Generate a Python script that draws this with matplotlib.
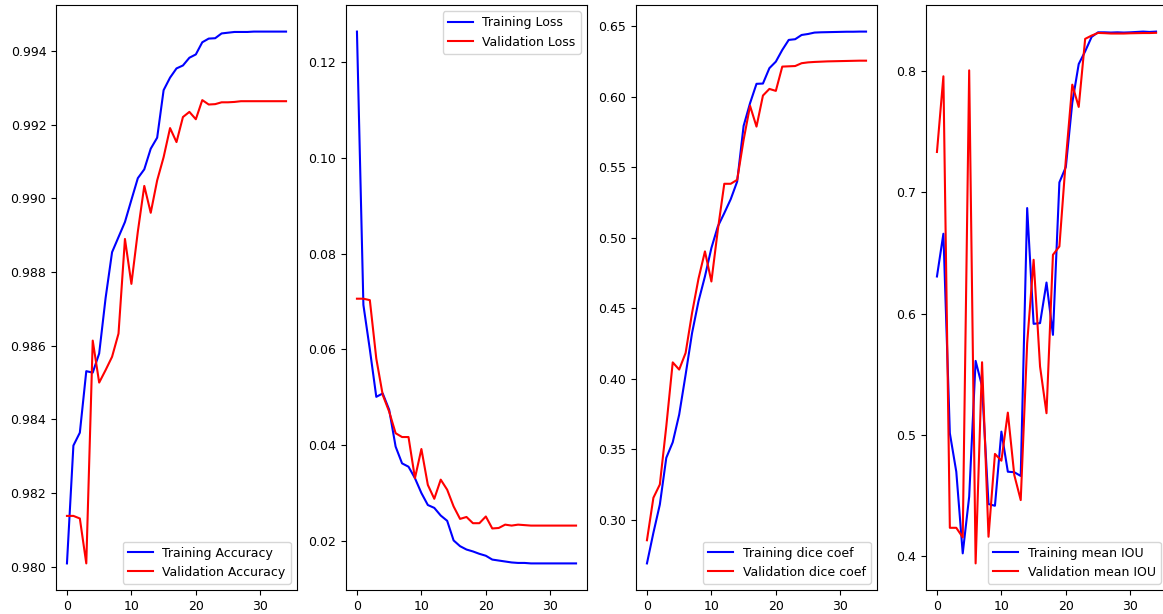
import numpy as np
import matplotlib
matplotlib.use("Agg")
import matplotlib.pyplot as plt

# epoch毎の学習履歴
epochs = np.arange(35)

train_acc = [0.98009, 0.98329, 0.98364, 0.98531, 0.98527, 0.98579, 0.98730, 0.98854,
             0.98895, 0.98936, 0.98996, 0.99055, 0.99079, 0.99135, 0.99165, 0.99294,
             0.99328, 0.99353, 0.99361, 0.99382, 0.99391, 0.99424, 0.99434, 0.99435,
             0.99448, 0.99450, 0.99452, 0.99452, 0.99452, 0.99453, 0.99453, 0.99453,
             0.99453, 0.99453, 0.99453]
val_acc = [0.98138, 0.98138, 0.98131, 0.98009, 0.98614, 0.98500, 0.98534, 0.98570,
           0.98633, 0.98890, 0.98768, 0.98910, 0.99034, 0.98961, 0.99049, 0.99112,
           0.99191, 0.99153, 0.99221, 0.99235, 0.99215, 0.99267, 0.99255, 0.99256,
           0.99261, 0.99261, 0.99262, 0.99264, 0.99264, 0.99264, 0.99264, 0.99264,
           0.99264, 0.99264, 0.99264]

train_loss = [0.1264, 0.0693, 0.0600, 0.0501, 0.0508, 0.0474, 0.0397, 0.0362,
              0.0355, 0.0331, 0.0300, 0.0275, 0.0269, 0.0253, 0.0242, 0.0201,
              0.0189, 0.0182, 0.0178, 0.0173, 0.0169, 0.0161, 0.0159, 0.0157,
              0.0155, 0.0154, 0.0154, 0.0153, 0.0153, 0.0153, 0.0153, 0.0153,
              0.0153, 0.0153, 0.0153]
val_loss = [0.0706, 0.0706, 0.0703, 0.0581, 0.0505, 0.0470, 0.0425, 0.0417,
            0.0417, 0.0331, 0.0392, 0.0317, 0.0288, 0.0328, 0.0307, 0.0272,
            0.0246, 0.0250, 0.0237, 0.0237, 0.0251, 0.0226, 0.0227, 0.0234,
            0.0232, 0.0234, 0.0233, 0.0232, 0.0232, 0.0232, 0.0232, 0.0232,
            0.0232, 0.0232, 0.0232]

train_dice = [0.2693, 0.2910, 0.3110, 0.3441, 0.3551, 0.3747, 0.4030, 0.4325,
              0.4550, 0.4726, 0.4927, 0.5080, 0.5174, 0.5273, 0.5398, 0.5792,
              0.5953, 0.6090, 0.6092, 0.6201, 0.6247, 0.6330, 0.6401, 0.6406,
              0.6436, 0.6443, 0.6453, 0.6455, 0.6456, 0.6457, 0.6458, 0.6459,
              0.6459, 0.6460, 0.6460]
val_dice = [0.2857, 0.3158, 0.3252, 0.3664, 0.4117, 0.4066, 0.4184, 0.4467,
            0.4710, 0.4903, 0.4690, 0.5056, 0.5382, 0.5382, 0.5410, 0.5693,
            0.5934, 0.5787, 0.6007, 0.6054, 0.6040, 0.6212, 0.6214, 0.6216,
            0.6236, 0.6242, 0.6245, 0.6247, 0.6249, 0.6250, 0.6251, 0.6252,
            0.6253, 0.6254, 0.6254]

train_iou = [0.6306, 0.6659, 0.5012, 0.4694, 0.4020, 0.4488, 0.5609, 0.5400,
             0.4427, 0.4413, 0.5025, 0.4694, 0.4690, 0.4659, 0.6871, 0.5915,
             0.5921, 0.6256, 0.5824, 0.7083, 0.7210, 0.7740, 0.8060, 0.8165,
             0.8284, 0.8322, 0.8322, 0.8320, 0.8322, 0.8320, 0.8322, 0.8325,
             0.8328, 0.8325, 0.8328]
val_iou = [0.7334, 0.7959, 0.4231, 0.4231, 0.4152, 0.8008, 0.3937, 0.5598,
           0.4157, 0.4841, 0.4785, 0.5182, 0.4667, 0.4460, 0.5755, 0.6444,
           0.5562, 0.5177, 0.6485, 0.6554, 0.7270, 0.7890, 0.7706, 0.8268,
           0.8295, 0.8317, 0.8315, 0.8312, 0.8312, 0.8312, 0.8314, 0.8315,
           0.8316, 0.8316, 0.8318]

panels = [
    (train_acc, val_acc, "Training Accuracy", "Validation Accuracy", "lower right"),
    (train_loss, val_loss, "Training Loss", "Validation Loss", "upper right"),
    (train_dice, val_dice, "Training dice coef", "Validation dice coef", "lower right"),
    (train_iou, val_iou, "Training mean IOU", "Validation mean IOU", "lower right"),
]

plt.rcParams["font.size"] = 9

fig = plt.figure(figsize=(11.63, 6.14), dpi=100)
W, H = 1163.0, 614.0
lefts = [56, 346, 636, 926]

for left, (tr, va, lab_tr, lab_va, loc) in zip(lefts, panels):
    ax = fig.add_axes([left / W, 24 / H, 241 / W, 585 / H])
    ax.plot(epochs, tr, c="b", label=lab_tr)
    ax.plot(epochs, va, c="r", label=lab_va)
    ax.legend(loc=loc)

fig.savefig("out.png", dpi=100)
